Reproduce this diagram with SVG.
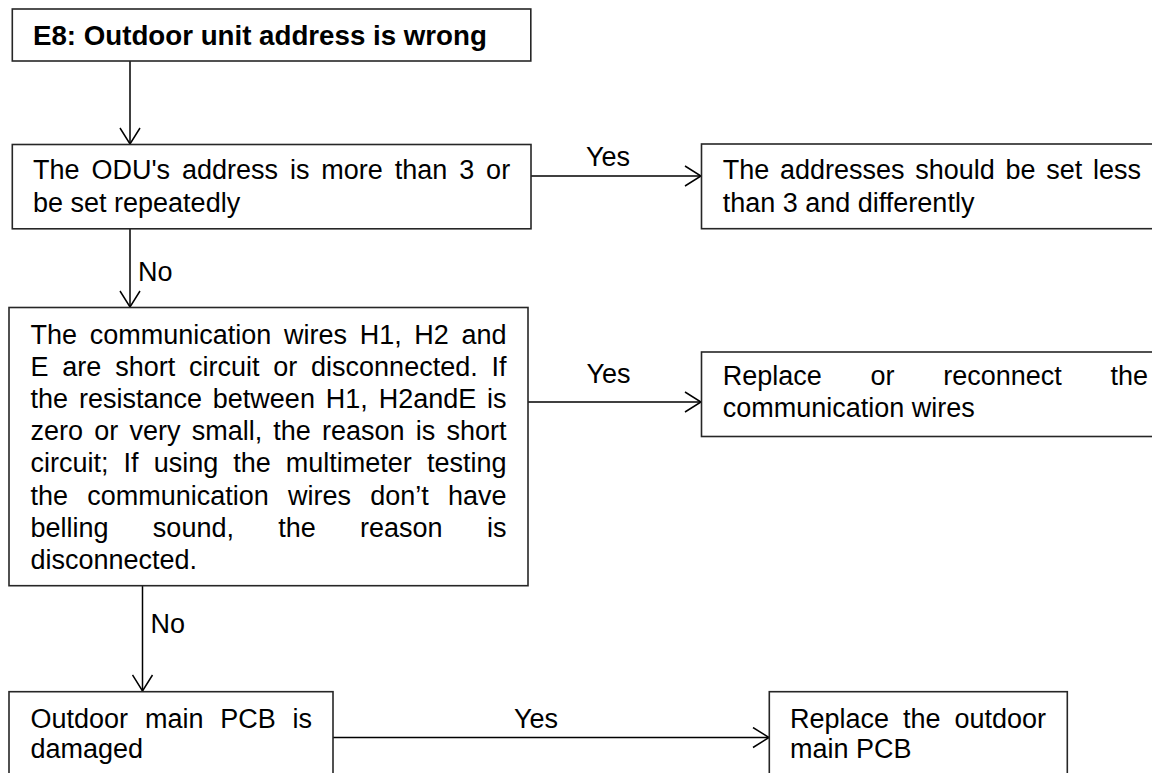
<svg xmlns="http://www.w3.org/2000/svg" width="1152" height="773" viewBox="0 0 1152 773">
<style>
.box{fill:#fff;stroke:#262626;stroke-width:1.6}
.t{font-family:"Liberation Sans",Arial,sans-serif;font-size:27px;fill:#000}
.b{font-weight:bold;font-size:27.7px}
.c{fill:none;stroke:#000;stroke-width:1.5}
</style>
<defs>
<marker id="ah" markerUnits="userSpaceOnUse" viewBox="-18 -11 19 22" markerWidth="19" markerHeight="22" refX="0" refY="0" orient="auto">
<path d="M-16,-10 L0,0 L-16,10" fill="none" stroke="#000" stroke-width="1.5"/>
</marker>
</defs>
<rect width="1152" height="773" fill="#fff"/>
<g id="connectors">
<line class="c" x1="130" y1="61" x2="130" y2="144" marker-end="url(#ah)"/>
<line class="c" x1="531" y1="176" x2="701" y2="176" marker-end="url(#ah)"/>
<line class="c" x1="130" y1="229" x2="130" y2="307" marker-end="url(#ah)"/>
<line class="c" x1="528" y1="402" x2="701" y2="402" marker-end="url(#ah)"/>
<line class="c" x1="142.5" y1="586" x2="142.5" y2="691" marker-end="url(#ah)"/>
<line class="c" x1="333" y1="737.5" x2="769" y2="737.5" marker-end="url(#ah)"/>
<text class="t" x="586" y="166">Yes</text>
<text class="t" x="138" y="281">No</text>
<text class="t" x="586.5" y="383">Yes</text>
<text class="t" x="150.5" y="633">No</text>
<text class="t" x="514" y="728">Yes</text>
</g>
<g id="n1">
<rect class="box" x="12.3" y="9" width="518.5" height="52"/>
<text class="t b" x="33" y="45">E8: Outdoor unit address is wrong</text>
</g>
<g id="n2">
<rect class="box" x="12.3" y="144.5" width="518.7" height="84.3"/>
<text class="t" x="33" y="179" word-spacing="4.4">The ODU's address is more than 3 or</text>
<text class="t" x="33" y="212">be set repeatedly</text>
</g>
<g id="n3">
<rect class="box" x="701.5" y="144" width="470" height="84.7"/>
<text class="t" x="722.7" y="179" word-spacing="3.2">The addresses should be set less</text>
<text class="t" x="722.7" y="212">than 3 and differently</text>
</g>
<g id="n4">
<rect class="box" x="9" y="307.5" width="519" height="278.2"/>
<text class="t" x="30.5" y="343.5" word-spacing="5.18">The communication wires H1, H2 and</text>
<text class="t" x="30.5" y="375.7" word-spacing="6.3">E are short circuit or disconnected. If</text>
<text class="t" x="30.5" y="407.9" word-spacing="3.36">the resistance between H1, H2andE is</text>
<text class="t" x="30.5" y="440.1" word-spacing="3.7">zero or very small, the reason is short</text>
<text class="t" x="30.5" y="472.3" word-spacing="7.56">circuit; If using the multimeter testing</text>
<text class="t" x="30.5" y="504.5" word-spacing="11.7">the communication wires don’t have</text>
<text class="t" x="30.5" y="536.7" word-spacing="36.8">belling sound, the reason is</text>
<text class="t" x="30.5" y="568.9">disconnected.</text>
</g>
<g id="n5">
<rect class="box" x="701.5" y="352" width="470" height="84.5"/>
<text class="t" x="722.7" y="385" word-spacing="41.2">Replace or reconnect the</text>
<text class="t" x="722.7" y="417">communication wires</text>
</g>
<g id="n6">
<rect class="box" x="9" y="691.7" width="324" height="100"/>
<text class="t" x="30.5" y="728" word-spacing="9.33">Outdoor main PCB is</text>
<text class="t" x="30.5" y="758">damaged</text>
</g>
<g id="n7">
<rect class="box" x="769.3" y="691.7" width="298" height="100"/>
<text class="t" x="790" y="728" word-spacing="6.4">Replace the outdoor</text>
<text class="t" x="790" y="758">main PCB</text>
</g>
</svg>
